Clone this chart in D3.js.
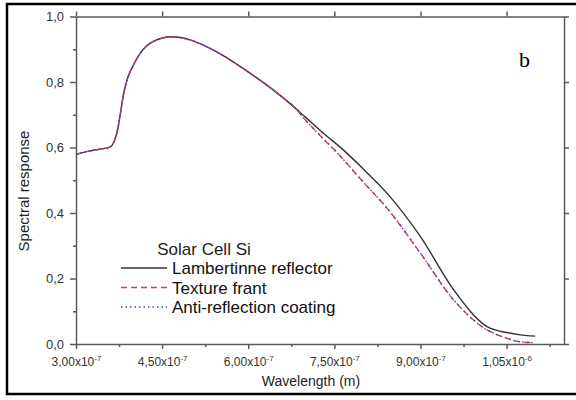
<!DOCTYPE html>
<html>
<head>
<meta charset="utf-8">
<title>Spectral response</title>
<script src="https://d3js.org/d3.v7.min.js"></script>
<style>
  body { margin: 0; background: #fff; }
  text { font-family: "Liberation Sans", Arial, sans-serif; }
  text.panel { font-family: "Liberation Serif", "Times New Roman", serif; }
</style>
</head>
<body>
<svg width="576" height="400"></svg>
<script>
// wavelengths in metres, spectral response
const lambertWl = [3.00e-7, 3.20e-7, 3.42e-7, 3.59e-7, 3.65e-7, 3.71e-7, 3.77e-7, 3.83e-7, 3.90e-7, 4.00e-7, 4.12e-7, 4.34e-7, 4.67e-7, 5.00e-7, 5.45e-7, 6.03e-7, 6.62e-7, 7.00e-7, 7.30e-7, 7.66e-7, 8.00e-7, 8.42e-7, 9.00e-7, 9.58e-7, 1.016e-6, 1.050e-6, 1.074e-6, 1.100e-6];
const lambertSr = [0.579, 0.588, 0.595, 0.601, 0.613, 0.643, 0.700, 0.765, 0.812, 0.852, 0.888, 0.923, 0.938, 0.928, 0.892, 0.827, 0.750, 0.692, 0.645, 0.592, 0.535, 0.460, 0.328, 0.165, 0.053, 0.035, 0.028, 0.024];

const textureWl = [3.00e-7, 3.20e-7, 3.42e-7, 3.59e-7, 3.65e-7, 3.71e-7, 3.77e-7, 3.83e-7, 3.90e-7, 4.00e-7, 4.12e-7, 4.34e-7, 4.67e-7, 5.00e-7, 5.45e-7, 6.03e-7, 6.62e-7, 6.79e-7, 7.00e-7, 7.30e-7, 7.57e-7, 8.00e-7, 8.42e-7, 9.00e-7, 9.58e-7, 1.016e-6, 1.050e-6, 1.069e-6, 1.097e-6];
const textureSr = [0.579, 0.588, 0.595, 0.601, 0.613, 0.643, 0.700, 0.765, 0.812, 0.852, 0.888, 0.923, 0.938, 0.928, 0.892, 0.827, 0.750, 0.726, 0.683, 0.628, 0.580, 0.495, 0.414, 0.277, 0.134, 0.043, 0.018, 0.008, 0.004];

const coatingWl = textureWl;
const coatingSr = [0.579, 0.588, 0.595, 0.601, 0.613, 0.643, 0.700, 0.765, 0.812, 0.852, 0.888, 0.923, 0.938, 0.928, 0.892, 0.827, 0.750, 0.726, 0.683, 0.628, 0.580, 0.495, 0.414, 0.277, 0.134, 0.043, 0.018, 0.008, 0.004];

const xTicks = [3.0e-7, 4.5e-7, 6.0e-7, 7.5e-7, 9.0e-7, 1.05e-6];
const xTickText = [["3,00x10", "-7"], ["4,50x10", "-7"], ["6,00x10", "-7"], ["7,50x10", "-7"], ["9,00x10", "-7"], ["1,05x10", "-6"]];
const xMinor = [3.75e-7, 5.25e-7, 6.75e-7, 8.25e-7, 9.75e-7, 1.125e-6];
const yTicks = [0, 0.2, 0.4, 0.6, 0.8, 1.0];
const yMinor = [0.1, 0.3, 0.5, 0.7, 0.9];

const legendTitle = "Solar Cell Si";
const seriesNames = ["Lambertinne reflector", "Texture frant", "Anti-reflection coating"];

const svg = d3.select("svg");

const x = d3.scaleLinear().domain([3.0e-7, 1.15e-6]).range([76, 564]);
const y = d3.scaleLinear().domain([0, 1]).range([344, 16.5]);

const axisColor = "#5a5a5a";

// outer frame (right edge is cropped in the original)
svg.append("rect")
    .attr("x", 7).attr("y", 4)
    .attr("width", 600).attr("height", 390)
    .attr("fill", "none")
    .attr("stroke", "#000")
    .attr("stroke-width", 2.5);

// minor ticks
svg.append("g")
    .attr("transform", `translate(0,${y(0)})`)
    .call(d3.axisBottom(x).tickValues(xMinor).tickSize(3).tickFormat(""))
    .call(g => g.select(".domain").remove());
svg.append("g")
    .attr("transform", `translate(${x(3e-7)},0)`)
    .call(d3.axisLeft(y).tickValues(yMinor).tickSize(3).tickFormat(""))
    .call(g => g.select(".domain").remove());

// bottom axis
const xAxis = svg.append("g")
    .attr("transform", `translate(0,${y(0)})`)
    .call(d3.axisBottom(x).tickValues(xTicks).tickSize(5).tickSizeOuter(0).tickPadding(8).tickFormat(""));
xAxis.selectAll(".tick text")
    .attr("font-size", 12)
    .attr("fill", "#333")
    .each(function (d, i) {
        const t = d3.select(this);
        t.append("tspan").text(xTickText[i][0]);
        t.append("tspan").attr("font-size", 8).attr("dy", -5).text(xTickText[i][1]);
    });

// left axis
svg.append("g")
    .attr("transform", `translate(${x(3e-7)},0)`)
    .call(d3.axisLeft(y).tickValues(yTicks).tickSize(6).tickSizeOuter(0).tickPadding(6)
        .tickFormat(d => d3.format(".1f")(d).replace(".", ",")))
    .selectAll(".tick text")
    .attr("font-size", 13)
    .attr("fill", "#333");

// top and right axes, major ticks only
svg.append("g")
    .attr("transform", `translate(0,${y(1)})`)
    .call(d3.axisTop(x).tickValues(xTicks).tickSize(5).tickSizeOuter(0).tickFormat(""));
svg.append("g")
    .attr("transform", `translate(${x(1.15e-6)},0)`)
    .call(d3.axisRight(y).tickValues(yTicks).tickSize(5).tickSizeOuter(0).tickFormat(""));

svg.selectAll(".domain, .tick line")
    .attr("stroke", axisColor)
    .attr("stroke-width", 1.5);

// axis titles
svg.append("text")
    .attr("x", 311).attr("y", 386)
    .attr("text-anchor", "middle")
    .attr("font-size", 14)
    .attr("fill", "#222")
    .text("Wavelength (m)");

svg.append("text")
    .attr("transform", "translate(29,191) rotate(-90)")
    .attr("text-anchor", "middle")
    .attr("font-size", 15)
    .attr("fill", "#222")
    .text("Spectral response");

// curves
const line = d3.line()
    .x(d => x(d[0]))
    .y(d => y(d[1]))
    .curve(d3.curveMonotoneX);

const series = [
    { wl: lambertWl, sr: lambertSr, color: "#333333", dash: null, width: 1.4 },
    { wl: textureWl, sr: textureSr, color: "#d0404c", dash: "6,4", width: 1.4 },
    { wl: coatingWl, sr: coatingSr, color: "#4646c0", dash: "1.5,3", width: 1.4 }
];

series.forEach(s => {
    svg.append("path")
        .datum(d3.zip(s.wl, s.sr))
        .attr("fill", "none")
        .attr("stroke", s.color)
        .attr("stroke-width", s.width)
        .attr("stroke-dasharray", s.dash)
        .attr("d", line);
});

// legend
const legend = svg.append("g");
legend.append("text")
    .attr("x", 204).attr("y", 255)
    .attr("text-anchor", "middle")
    .attr("font-size", 17)
    .attr("fill", "#222")
    .text(legendTitle);

series.forEach((s, i) => {
    const cy = 268 + i * 19.5;
    legend.append("line")
        .attr("x1", 121).attr("x2", 167)
        .attr("y1", cy).attr("y2", cy)
        .attr("stroke", s.color)
        .attr("stroke-width", s.width)
        .attr("stroke-dasharray", s.dash);
    legend.append("text")
        .attr("x", 172).attr("y", cy + 6)
        .attr("font-size", 17)
        .attr("fill", "#111")
        .text(seriesNames[i]);
});

// panel letter
svg.append("text")
    .attr("class", "panel")
    .attr("x", 519).attr("y", 67)
    .attr("font-size", 22)
    .attr("fill", "#000")
    .text("b");
</script>
</body>
</html>
